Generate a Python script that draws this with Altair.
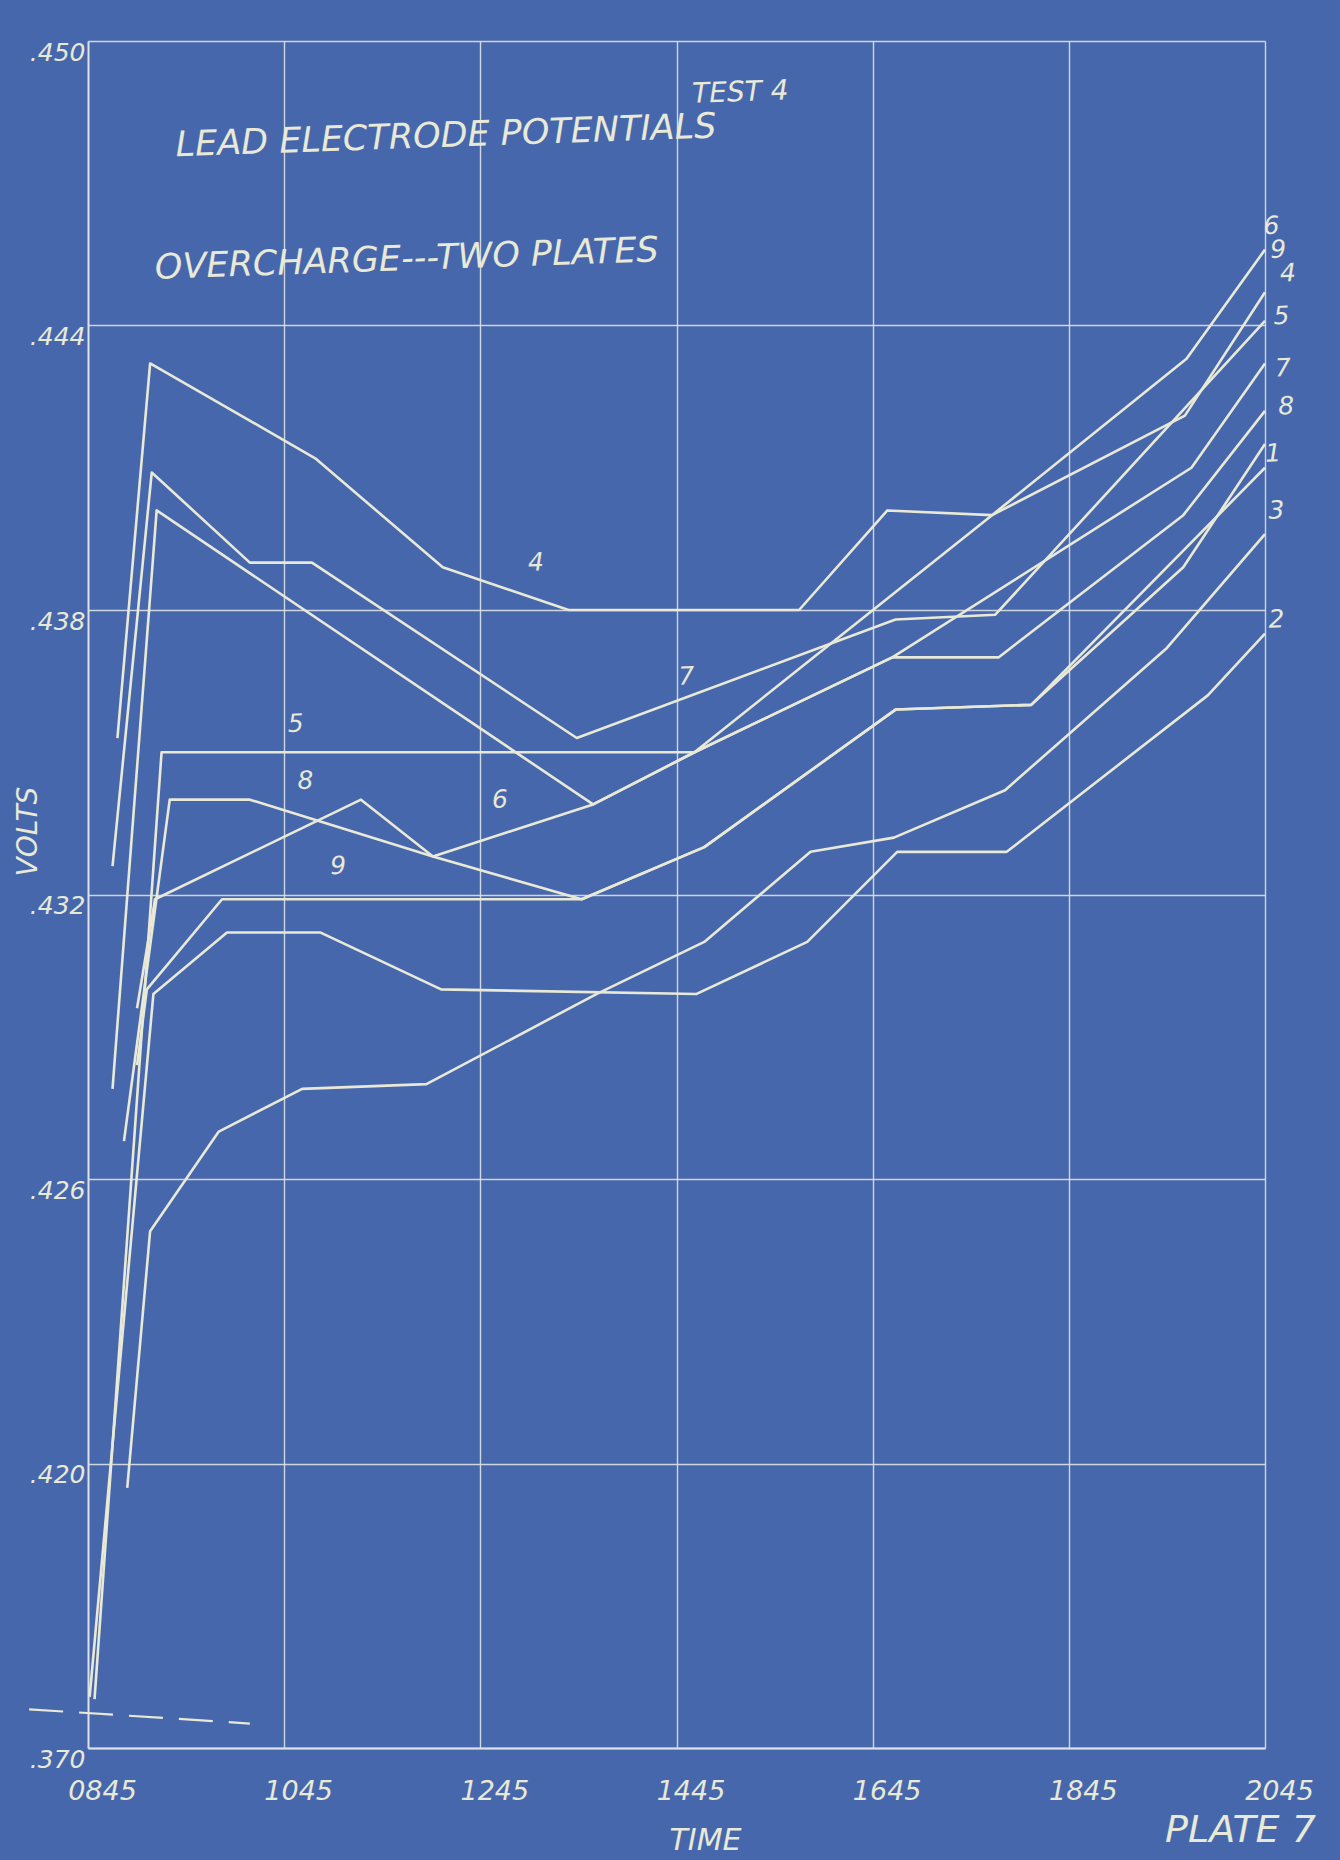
import altair as alt
import pandas as pd

# ---- data: lead electrode potential (volts) against time of day ----
LEVELS = [0.370, 0.420, 0.426, 0.432, 0.438, 0.444, 0.450]
TIME_TICKS = [8.75, 10.75, 12.75, 14.75, 16.75, 18.75, 20.75]

T4 = ["09:03", "09:23", "11:04", "12:22", "13:39", "16:00", "16:54", "17:58", "19:57", "20:45"]
V4 = [0.4353, 0.4432, 0.4412, 0.4389, 0.4380, 0.4380, 0.4401, 0.4400, 0.4433, 0.4456]

T7 = ["09:00", "09:24", "10:24", "11:02", "13:44", "16:59", "18:00", "20:45"]
V7 = [0.4326, 0.4409, 0.4390, 0.4390, 0.4353, 0.4378, 0.4379, 0.4441]

T6 = ["09:00", "09:27", "13:54", "14:56", "17:58", "19:56", "20:45"]
V6 = [0.4279, 0.4401, 0.4339, 0.4350, 0.4400, 0.4421, 0.4447]

T9 = ["09:15", "09:26", "11:32", "12:16", "13:54", "14:56", "16:57", "20:00", "20:45"]
V9 = [0.4296, 0.4319, 0.4340, 0.4328, 0.4339, 0.4350, 0.4370, 0.4410, 0.4432]

T5 = ["08:49", "09:30", "14:56", "16:57", "18:02", "19:55", "20:45"]
V5 = [0.3786, 0.4350, 0.4350, 0.4370, 0.4370, 0.4400, 0.4422]

T8 = ["09:07", "09:35", "10:24", "12:16", "13:47", "15:02", "16:59", "18:22", "19:55", "20:45"]
V8 = [0.4268, 0.4340, 0.4340, 0.4328, 0.4319, 0.4330, 0.4359, 0.4360, 0.4389, 0.4415]

T1 = ["09:15", "09:21", "10:07", "13:47", "15:02", "16:59", "18:22", "20:45"]
V1 = [0.4284, 0.4300, 0.4319, 0.4319, 0.4330, 0.4359, 0.4360, 0.4410]

T3 = ["09:09", "09:23", "10:05", "10:56", "12:12", "13:56", "15:02", "16:07", "16:58", "18:06", "19:45", "20:45"]
V3 = [0.4157, 0.4249, 0.4270, 0.4279, 0.4280, 0.4299, 0.4310, 0.4329, 0.4332, 0.4342, 0.4372, 0.4396]

T2 = ["08:46", "09:25", "10:10", "11:07", "12:21", "14:57", "16:05", "17:00", "18:07", "20:10", "20:45"]
V2 = [0.3790, 0.4299, 0.4312, 0.4312, 0.4300, 0.4299, 0.4310, 0.4329, 0.4329, 0.4362, 0.4375]

CURVES = {
    "1": (T1, V1), "2": (T2, V2), "3": (T3, V3), "4": (T4, V4), "5": (T5, V5),
    "6": (T6, V6), "7": (T7, V7), "8": (T8, V8), "9": (T9, V9),
}

# dashed break mark near the foot of the voltage axis
DASH_T = ["08:09", "10:24"]
DASH_V = [0.3768, 0.3743]

# curve numbers written along the curves and at their right-hand ends
LABEL_TEXT = ["4", "7", "5", "8", "6", "9", "6", "9", "4", "5", "7", "8", "1", "3", "2"]
LABEL_T = ["13:19", "14:51", "10:52", "10:58", "12:57", "11:18",
           "20:49", "20:53", "20:59", "20:55", "20:56", "20:58", "20:50", "20:52", "20:52"]
LABEL_V = [0.4390, 0.4366, 0.4356, 0.4344, 0.4340, 0.4326,
           0.4461, 0.4456, 0.4451, 0.4442, 0.4431, 0.4423, 0.4413, 0.4401, 0.4378]

HEAD_TEXT = ["LEAD ELECTRODE POTENTIALS", "OVERCHARGE---TWO PLATES"]
HEAD_T = ["12:24", "12:00"]
HEAD_V = [0.4480, 0.4454]

TEST_TEXT = ["TEST 4"]
TEST_T = ["15:24"]
TEST_V = [0.4489]

PLATE_TEXT = ["PLATE 7"]
PLATE_T = ["20:30"]
PLATE_V = [0.3520]


def hours(hhmm):
    h, m = hhmm.split(":")
    return int(h) + int(m) / 60.0


rows = []
for name, (ts, vs) in CURVES.items():
    for i, (t, v) in enumerate(zip(ts, vs)):
        rows.append({"curve": name, "seq": i, "t": hours(t), "v": v})
curves_df = pd.DataFrame(rows)

dash_df = pd.DataFrame({"t": [hours(t) for t in DASH_T], "v": DASH_V})
label_df = pd.DataFrame({"label": LABEL_TEXT, "t": [hours(t) for t in LABEL_T], "v": LABEL_V})
head_df = pd.DataFrame({"label": HEAD_TEXT, "t": [hours(t) for t in HEAD_T], "v": HEAD_V})
test_df = pd.DataFrame({"label": TEST_TEXT, "t": [hours(t) for t in TEST_T], "v": TEST_V})
plate_df = pd.DataFrame({"label": PLATE_TEXT, "t": [hours(t) for t in PLATE_T], "v": PLATE_V})

# ---- styling ----
BG = "#4767ad"
INK = "#e8e9d6"
GRID = "#dde2e6"
FONT = "DejaVu Sans"
W, H = 1177, 1707

x_scale = alt.Scale(domain=[8.75, 20.75], nice=False, zero=False)
# equal spacing for every gridline, so the .370-.420 span is compressed
y_scale = alt.Scale(type="linear", domain=LEVELS,
                    range=[H * (1 - i / 6) for i in range(7)], nice=False, zero=False)

x_axis = alt.Axis(
    values=TIME_TICKS,
    labelExpr="(datum.value < 10 ? '0' : '') + floor(datum.value) + '45'",
    grid=True, gridColor=GRID, gridWidth=1.4, gridOpacity=0.9,
    domainColor=GRID, domainWidth=1.8, ticks=False,
    labelColor=INK, labelFont=FONT, labelFontSize=27, labelFontStyle="italic",
    labelPadding=30, labelOffset=14, labelFlush=False, labelOverlap=False,
    title="TIME", titleColor=INK, titleFont=FONT, titleFontSize=30,
    titleFontStyle="italic", titleFontWeight="normal",
    titleX=617, titleY=92, titleBaseline="middle",
)
y_axis = alt.Axis(
    values=LEVELS,
    labelExpr="replace(format(datum.value, '.3f'), '0.', '.')",
    grid=True, gridColor=GRID, gridWidth=1.4, gridOpacity=0.9,
    domainColor=GRID, domainWidth=1.8, ticks=False,
    labelColor=INK, labelFont=FONT, labelFontSize=25, labelFontStyle="italic",
    labelPadding=3, labelOffset=11, labelFlush=False, labelOverlap=False,
    title="VOLTS", titleColor=INK, titleFont=FONT, titleFontSize=28,
    titleFontStyle="italic", titleFontWeight="normal",
    titleAngle=270, titleX=-60, titleY=790, titleBaseline="middle",
)

X = alt.X("t:Q", scale=x_scale, axis=x_axis)
Y = alt.Y("v:Q", scale=y_scale, axis=y_axis)

lines = alt.Chart(curves_df).mark_line(
    color=INK, strokeWidth=2.6, strokeJoin="round"
).encode(x=X, y=Y, detail="curve:N", order="seq:Q")

dash = alt.Chart(dash_df).mark_line(
    color=INK, strokeWidth=2.2, strokeDash=[34, 16]
).encode(x=X, y=Y)

labels = alt.Chart(label_df).mark_text(
    color=INK, font=FONT, fontSize=25, fontStyle="italic", angle=358
).encode(x=X, y=Y, text="label:N")

heads = alt.Chart(head_df).mark_text(
    color=INK, font=FONT, fontSize=35, fontStyle="italic", angle=358
).encode(x=X, y=Y, text="label:N")

test = alt.Chart(test_df).mark_text(
    color=INK, font=FONT, fontSize=28, fontStyle="italic", angle=358
).encode(x=X, y=Y, text="label:N")

plate = alt.Chart(plate_df).mark_text(
    color=INK, font=FONT, fontSize=38, fontStyle="italic", baseline="bottom"
).encode(x=X, y=Y, text="label:N")

chart = alt.layer(lines, dash, labels, heads, test, plate).properties(
    width=W, height=H,
    padding={"left": 88, "top": 41, "right": 75, "bottom": 112},
    autosize=alt.AutoSizeParams(type="none"),
    background=BG,
).configure_view(stroke=None)

chart.save("out.html", embed_options={"renderer": "svg", "actions": False})
